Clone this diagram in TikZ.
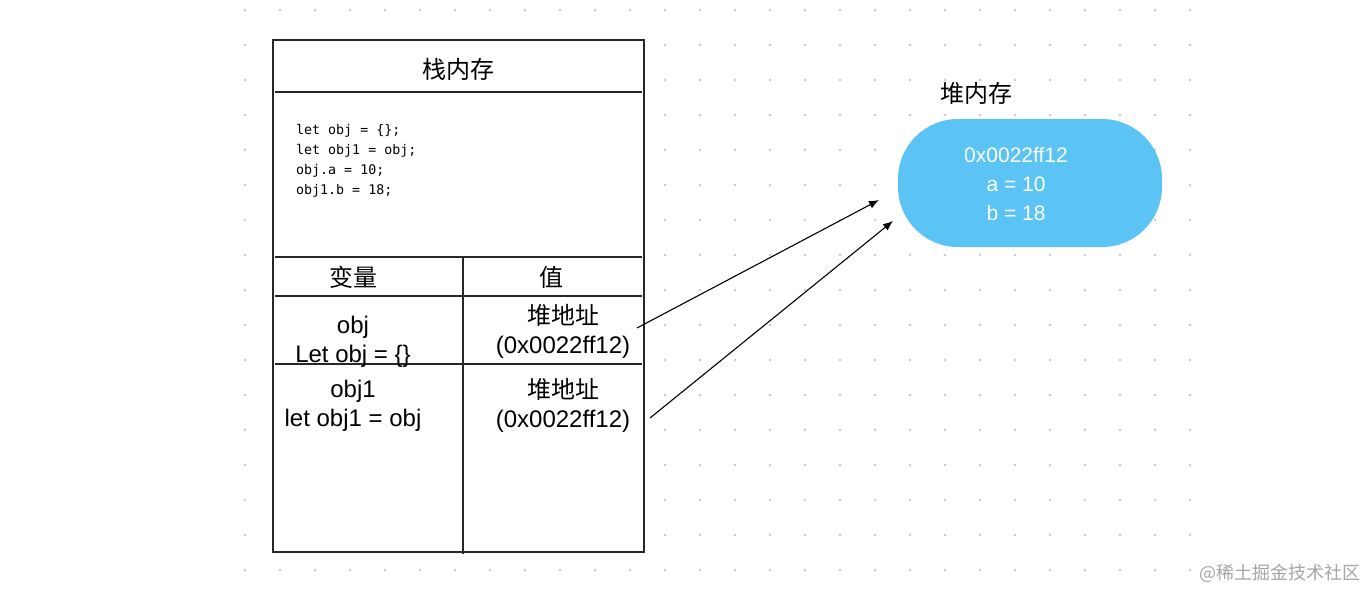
\documentclass[tikz,border=0pt]{standalone}
\usepackage{fontspec}
\setmainfont{Liberation Sans}
\newfontfamily\cjk{Noto Sans CJK SC}
\newfontfamily\codefont{DejaVu Sans Mono}
\usetikzlibrary{arrows.meta}
\definecolor{dotc}{RGB}{200,200,200}
\definecolor{blobc}{RGB}{91,196,244}
\definecolor{wmc}{RGB}{165,165,165}
\tikzset{
  x=1pt,y=-1pt,
  frame/.style={draw=black!85,line width=1.2pt},
  tline/.style={draw=black!85,line width=1.1pt},
  celltxt/.style={font=\fontsize{24}{29}\selectfont,align=center,inner sep=0pt},
  cjktxt/.style={font=\cjk\fontsize{24}{28}\selectfont,inner sep=0pt},
  arr/.style={draw=black,line width=1.1pt,-{Latex[length=10pt,width=8pt]}},
}
\begin{document}
\begin{tikzpicture}
\useasboundingbox (0,0) rectangle (1366,590);
\fill[white] (0,0) rectangle (1366,590);
% dot grid
\foreach \i in {0,...,27}{
  \foreach \j in {0,...,16}{
    \fill[dotc] ({245+35*\i},{10+35*\j}) circle (1.3);
  }
}
% stack table
\draw[frame,fill=white] (273,40) rectangle (644,552);
\draw[tline] (275,92) -- (642,92);
\draw[tline] (275,257) -- (642,257);
\draw[tline] (275,296) -- (642,296);
\draw[tline] (275,364) -- (642,364);
\draw[tline] (463,257) -- (463,554);
\node[cjktxt] (title) at (458,69) {栈内存};
\node[anchor=north west,align=left,inner sep=0pt,font=\codefont\fontsize{13.3}{20}\selectfont] (code) at (296,124)
  {let obj = \{\};\\let obj1 = obj;\\obj.a = 10;\\obj1.b = 18;};
\node[cjktxt] (h1) at (353,277) {变量};
\node[cjktxt] (h2) at (551,277) {值};
\node[celltxt] (k1) at (353,342) {obj\\Let obj = \{\}};
\node[celltxt] (v1) at (563,331) {{\cjk 堆地址}\\(0x0022ff12)};
\node[celltxt] (k2) at (353,406) {obj1\\let obj1 = obj};
\node[celltxt] (v2) at (563,405) {{\cjk 堆地址}\\(0x0022ff12)};
% heap
\node[cjktxt] (heaplbl) at (976,93) {堆内存};
\fill[blobc,rounded corners=60pt] (898,119) rectangle (1162,247);
\node[font=\fontsize{21}{29}\selectfont,text=white,align=center,inner sep=0pt] (heap) at (1016,184)
  {0x0022ff12\\a = 10\\b = 18};
% arrows
\coordinate (a1s) at (637,328);
\coordinate (a1e) at (879,200);
\coordinate (a2s) at (650,418);
\coordinate (a2e) at (893,221);
\draw[arr] (a1s) -- (a1e);
\draw[arr] (a2s) -- (a2e);
% watermark
\node[anchor=east,font=\cjk\fontsize{18}{20}\selectfont,text=wmc,inner sep=0pt] (wm) at (1361,573) {@稀土掘金技术社区};
\end{tikzpicture}
\end{document}
